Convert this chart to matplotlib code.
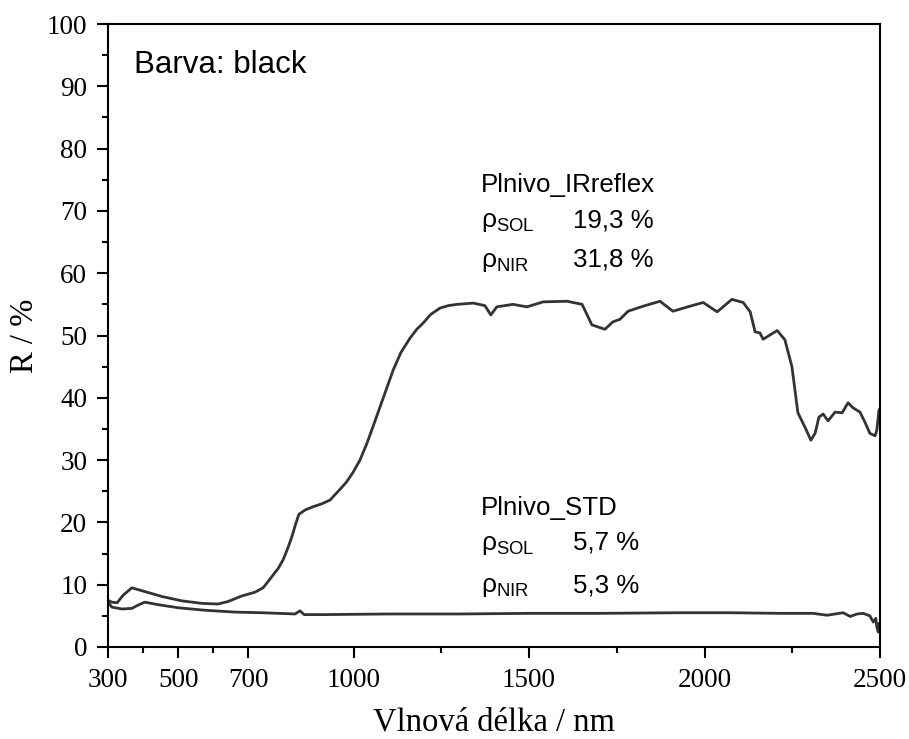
import matplotlib
matplotlib.use('Agg')
import matplotlib.pyplot as plt
from matplotlib.ticker import FixedLocator

# spectral reflectance (nm, %)
irr_nm = [300, 311, 326, 343, 368, 405, 454, 511, 568, 614, 642, 682, 719, 742, 756,
          771, 785, 799, 812, 824, 834, 844, 862, 884, 910, 933, 961, 980, 998, 1018,
          1038, 1056, 1075, 1094, 1113, 1135, 1161, 1180, 1198, 1220, 1246, 1270,
          1295, 1341, 1374, 1391, 1408, 1454, 1494, 1540, 1608, 1651, 1679,
          1716, 1739, 1759, 1782, 1825, 1873, 1910, 1958, 1996, 2036, 2078, 2110,
          2130, 2144, 2158, 2167, 2207, 2229, 2249, 2266, 2286, 2303, 2315, 2326,
          2338, 2352, 2372, 2392, 2409, 2423, 2443, 2457, 2471, 2486, 2491, 2497, 2500]
irr_r = [7.5, 7.2, 7.1, 8.3, 9.5, 8.9, 8.1, 7.4, 7.0, 6.9, 7.3, 8.2, 8.8, 9.5, 10.5,
         11.6, 12.6, 14.0, 15.8, 17.7, 19.6, 21.3, 22.0, 22.5, 23.0, 23.6, 25.3, 26.5, 28.0, 30.0,
         32.7, 35.5, 38.5, 41.5, 44.5, 47.3, 49.6, 51.0, 52.0, 53.4, 54.4, 54.8,
         55.0, 55.2, 54.8, 53.3, 54.6, 55.0, 54.6, 55.4, 55.5, 55.0, 51.7,
         51.0, 52.2, 52.6, 53.9, 54.7, 55.5, 53.9, 54.7, 55.3, 53.8, 55.8, 55.3,
         53.8, 50.6, 50.4, 49.4, 50.8, 49.3, 45.0, 37.6, 35.3, 33.2, 34.3, 36.9,
         37.4, 36.3, 37.7, 37.6, 39.2, 38.4, 37.7, 36.1, 34.3, 33.9, 34.8, 38.0, 38.3]

std_nm = [300, 311, 340, 368, 385, 405, 442, 500, 576, 662, 739, 833, 847, 859, 918,
          1100, 1300, 1500, 1700, 1930, 2073, 2215, 2309, 2349, 2372, 2395, 2415,
          2435, 2452, 2471, 2481, 2488, 2491, 2495, 2497, 2500]
std_r = [7.2, 6.4, 6.1, 6.2, 6.7, 7.2, 6.8, 6.3, 5.9, 5.6, 5.5, 5.3, 5.8, 5.2, 5.2,
         5.3, 5.3, 5.4, 5.4, 5.5, 5.5, 5.4, 5.4, 5.1, 5.3, 5.5, 4.9,
         5.3, 5.4, 5.0, 4.0, 4.6, 3.2, 2.4, 3.8, 2.6]

labels = ['Plnivo_IRreflex', 'Plnivo_STD']
rho_sol = ['19,3 %', '5,7 %']
rho_nir = ['31,8 %', '5,3 %']

plt.rcParams['font.family'] = ['Liberation Serif', 'DejaVu Serif']
plt.rcParams['mathtext.fontset'] = 'custom'
plt.rcParams['mathtext.rm'] = 'Liberation Sans'

fig = plt.figure(figsize=(9.09, 7.39), dpi=100)
ax = fig.add_axes([0.1188, 0.1245, 0.8493, 0.843])

line_col = '#333333'
ax.plot(irr_nm, irr_r, color=line_col, lw=2.0)
ax.plot(std_nm, std_r, color=line_col, lw=2.0)

ax.set_xlim(300, 2500)
ax.set_ylim(0, 100)
ax.xaxis.set_major_locator(FixedLocator([300, 500, 700, 1000, 1500, 2000, 2500]))
ax.xaxis.set_minor_locator(FixedLocator([400, 600, 1250, 1750, 2250]))
ax.yaxis.set_major_locator(FixedLocator(range(0, 101, 10)))
ax.yaxis.set_minor_locator(FixedLocator(range(5, 100, 10)))
ax.tick_params(which='both', direction='out', width=1.5, labelsize=19.5, top=False, right=False)
ax.tick_params(which='major', length=8)
ax.tick_params(which='minor', length=4)
ax.tick_params(axis='x', pad=7)
ax.tick_params(axis='y', pad=7)
for s in ax.spines.values():
    s.set_linewidth(1.5)

xl = ax.set_xlabel('Vlnová délka / nm', fontsize=23.5)
xl.set_va('baseline')
ax.xaxis.set_label_coords(0.5, -0.134)
ax.set_ylabel('R / %', fontsize=23.5, labelpad=5)

sans = 'Liberation Sans'
ax.text(374, 92.1, 'Barva: black', fontsize=22.5, family=sans)

blocks = [(73.0, 67.4, 61.0), (21.2, 15.6, 8.8)]
for lab, s, n, (y0, y1, y2) in zip(labels, rho_sol, rho_nir, blocks):
    ax.text(1363, y0, lab, fontsize=18.6, family=sans)
    ax.text(1363, y1, r'$\mathregular{ρ_{SOL}}$', fontsize=19, family=sans)
    ax.text(1625, y1, s, fontsize=18.6, family=sans)
    ax.text(1363, y2, r'$\mathregular{ρ_{NIR}}$', fontsize=19, family=sans)
    ax.text(1625, y2, n, fontsize=18.6, family=sans)

plt.savefig('out.png', dpi=100)
